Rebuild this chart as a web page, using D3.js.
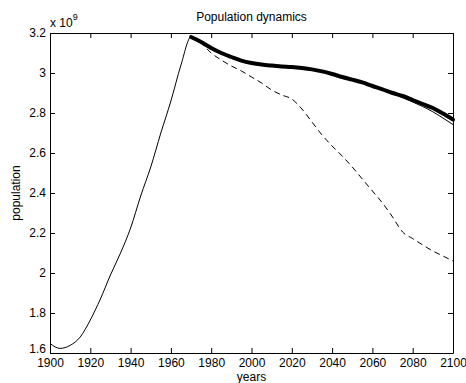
<!DOCTYPE html>
<html>
<head>
<meta charset="utf-8">
<script src="https://cdn.jsdelivr.net/npm/d3@7"></script>
<style>
  html, body { margin: 0; padding: 0; background: #fff; }
  svg { display: block; font-family: "Liberation Sans", Arial, sans-serif; }
</style>
</head>
<body>
<svg id="chart" width="466" height="383"></svg>
<script>
// Population in billions (x 10^9)
const histYears = [1900, 1905, 1910, 1915, 1920, 1925, 1930, 1935, 1940, 1945, 1950, 1955, 1960, 1965, 1970];
const histPop   = [1.648, 1.623, 1.638, 1.680, 1.765, 1.870, 1.990, 2.100, 2.225, 2.385, 2.530, 2.700, 2.860, 3.040, 3.180];

const projYears = [1970, 1975, 1980, 1985, 1990, 1995, 2000, 2005, 2010, 2015, 2020, 2025, 2030, 2035,
                   2040, 2045, 2050, 2055, 2060, 2065, 2070, 2075, 2080, 2085, 2090, 2095, 2100];
// model run (thin solid, continues the historical curve)
const modelPop  = [3.180, 3.155, 3.125, 3.100, 3.080, 3.062, 3.050, 3.042, 3.037, 3.033, 3.030, 3.025, 3.018, 3.008,
                   2.995, 2.980, 2.967, 2.953, 2.935, 2.916, 2.897, 2.877, 2.855, 2.832, 2.806, 2.775, 2.742];
// fitted trajectory (thick)
const fitPop    = [3.180, 3.155, 3.125, 3.100, 3.080, 3.062, 3.050, 3.042, 3.037, 3.033, 3.030, 3.025, 3.018, 3.008,
                   2.995, 2.980, 2.967, 2.953, 2.935, 2.918, 2.900, 2.885, 2.865, 2.845, 2.825, 2.797, 2.767];
// alternative scenario (dashed)
const altPop    = [3.180, 3.150, 3.100, 3.065, 3.035, 3.010, 2.980, 2.950, 2.915, 2.890, 2.870, 2.820, 2.755, 2.690,
                   2.635, 2.585, 2.530, 2.470, 2.410, 2.350, 2.280, 2.205, 2.172, 2.140, 2.110, 2.085, 2.060];

const xTicks = [1900, 1920, 1940, 1960, 1980, 2000, 2020, 2040, 2060, 2080, 2100];
const yTicks = [1.6, 1.8, 2.0, 2.2, 2.4, 2.6, 2.8, 3.0, 3.2];

const svg = d3.select("#chart");
const plotLeft = 50, plotRight = 453, plotTop = 33, plotBottom = 353;

const x = d3.scaleLinear().domain([1900, 2100]).range([plotLeft, plotRight]);
const y = d3.scaleLinear().domain([1.6, 3.2]).range([plotBottom, plotTop]);

const fmt = d => String(+d.toFixed(1));
const fontSize = "12px";

// axes with inward ticks on all four sides
function styleAxis(g) {
  g.selectAll("path").attr("stroke", "#000").attr("stroke-width", 1);
  g.selectAll("line").attr("stroke", "#000");
  g.selectAll("text").attr("fill", "#000").style("font-size", fontSize)
    .style("font-family", '"Liberation Sans", Arial, sans-serif');
}

svg.append("g").attr("transform", `translate(0,${plotBottom})`)
  .call(d3.axisBottom(x).tickValues(xTicks).tickFormat(d3.format("d")).tickSizeInner(-5).tickSizeOuter(0).tickPadding(5))
  .call(styleAxis);
svg.append("g").attr("transform", `translate(0,${plotTop})`)
  .call(d3.axisTop(x).tickValues(xTicks).tickFormat("").tickSizeInner(-5).tickSizeOuter(0))
  .call(styleAxis);
const yAxisG = svg.append("g").attr("transform", `translate(${plotLeft},0)`)
  .call(d3.axisLeft(y).tickValues(yTicks).tickFormat(fmt).tickSizeInner(-5).tickSizeOuter(0).tickPadding(4))
  .call(styleAxis);
// lift the lowest label slightly so it clears the first year label
yAxisG.selectAll(".tick").filter(d => d === yTicks[0]).select("text").attr("y", -4);
svg.append("g").attr("transform", `translate(${plotRight},0)`)
  .call(d3.axisRight(y).tickValues(yTicks).tickFormat("").tickSizeInner(-5).tickSizeOuter(0))
  .call(styleAxis);

svg.selectAll(".domain").attr("fill", "none");

const line = d3.line().x(d => x(d[0])).y(d => y(d[1])).curve(d3.curveMonotoneX);

const thinSeries = histYears.map((yr, i) => [yr, histPop[i]])
  .concat(projYears.slice(1).map((yr, i) => [yr, modelPop[i + 1]]));

const plot = svg.append("g");

plot.append("path").datum(projYears.map((yr, i) => [yr, altPop[i]]))
  .attr("d", line).attr("fill", "none").attr("stroke", "#000")
  .attr("stroke-width", 1).attr("stroke-dasharray", "6,4");

plot.append("path").datum(thinSeries)
  .attr("d", line).attr("fill", "none").attr("stroke", "#000").attr("stroke-width", 1);

plot.append("path").datum(projYears.map((yr, i) => [yr, fitPop[i]]))
  .attr("d", line).attr("fill", "none").attr("stroke", "#000")
  .attr("stroke-width", 4).attr("stroke-linecap", "round").attr("stroke-linejoin", "round");

// title and labels
svg.append("text").attr("x", (plotLeft + plotRight) / 2).attr("y", 21)
  .attr("text-anchor", "middle").style("font-size", fontSize).text("Population dynamics");

svg.append("text").attr("x", (plotLeft + plotRight) / 2).attr("y", 381)
  .attr("text-anchor", "middle").style("font-size", fontSize).text("years");

svg.append("text").attr("transform", `translate(20,${(plotTop + plotBottom) / 2}) rotate(-90)`)
  .attr("text-anchor", "middle").style("font-size", fontSize).text("population");

// exponent marker
const expo = svg.append("text").attr("x", plotLeft).attr("y", 27).style("font-size", fontSize);
expo.append("tspan").text("x 10");
expo.append("tspan").attr("dy", -7).style("font-size", "9px").text("9");
</script>
</body>
</html>
